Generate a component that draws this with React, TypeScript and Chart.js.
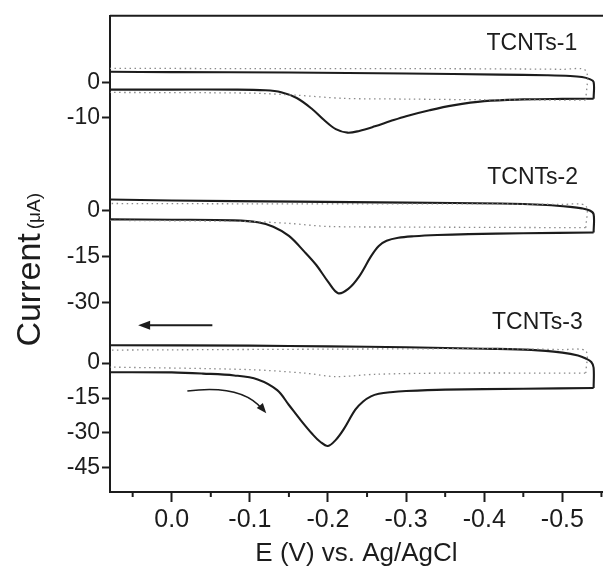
import React, { useEffect, useRef } from 'react';
import { Chart, registerables } from 'chart.js';

Chart.register(...registerables);

const FONT = '"Liberation Sans", Arial, Helvetica, sans-serif';
const INK = '#1c1c1c';
const DOT = '#8a8a8a';

// ---- x axis (potential, V vs Ag/AgCl) ----
const X_MIN = -0.552;
const X_MAX = 0.079;
const X_MAJOR = [0, -0.1, -0.2, -0.3, -0.4, -0.5];
const X_MINOR = [0.05, -0.05, -0.15, -0.25, -0.35, -0.45, -0.55];

// ---- y axes (current, µA), one per panel ----
const Y1_RANGE = [-23.7, 19.1];
const Y2_RANGE = [-32.6, 14.7];
const Y3_RANGE = [-55.4, 22.7];
const Y1_TICKS = [-10, 0];
const Y2_TICKS = [-30, -15, 0];
const Y3_TICKS = [-45, -30, -15, 0];
const PANEL_WEIGHTS = [150, 145, 182];

// ---- TCNTs-1 ----
const E1_FWD = [0.08, 0.0, -0.08, -0.12, -0.14, -0.16, -0.18, -0.195, -0.21, -0.225, -0.24, -0.26, -0.28, -0.3, -0.33, -0.36, -0.4, -0.45, -0.5, -0.54];
const I1_FWD = [-2.0, -2.0, -2.0, -2.2, -2.75, -4.4, -7.6, -10.7, -13.3, -14.3, -13.8, -12.5, -11.0, -9.6, -7.9, -6.5, -5.3, -4.8, -4.65, -4.6];
const E1_REV = [-0.54, -0.54, -0.535, -0.525, -0.51, -0.48, -0.42, -0.3, -0.15, 0.0, 0.08];
const I1_REV = [-4.6, 0.2, 1.0, 1.6, 1.9, 2.1, 2.3, 2.6, 2.9, 3.0, 3.1];
const EB1_FWD = [0.08, -0.1, -0.16, -0.22, -0.3, -0.4, -0.53];
const IB1_FWD = [-2.8, -3.0, -3.6, -4.5, -4.7, -4.9, -5.0];
const EB1_REV = [-0.53, -0.53, -0.5, -0.3, -0.1, 0.08];
const IB1_REV = [-5.0, 3.4, 3.8, 4.0, 4.0, 4.1];

// ---- TCNTs-2 ----
const E2_FWD = [0.08, 0.0, -0.08, -0.11, -0.13, -0.15, -0.17, -0.185, -0.2, -0.213, -0.226, -0.24, -0.255, -0.265, -0.275, -0.29, -0.31, -0.34, -0.38, -0.45, -0.54];
const I2_FWD = [-2.9, -3.0, -3.2, -3.8, -5.3, -8.3, -13.5, -17.8, -23.2, -27.0, -25.6, -21.5, -15.0, -11.6, -9.9, -8.9, -8.4, -8.0, -7.7, -7.4, -7.2];
const E2_REV = [-0.54, -0.54, -0.535, -0.525, -0.51, -0.48, -0.42, -0.3, -0.16, 0.0, 0.08];
const I2_REV = [-7.2, -1.2, 0.0, 0.7, 1.2, 1.8, 2.3, 2.6, 2.9, 3.3, 3.6];
const EB2_FWD = [0.08, -0.1, -0.15, -0.2, -0.3, -0.53];
const IB2_FWD = [-3.2, -3.6, -4.2, -5.2, -5.4, -5.6];
const EB2_REV = [-0.53, -0.53, -0.5, -0.3, -0.1, 0.08];
const IB2_REV = [-5.6, 1.5, 2.0, 2.2, 2.2, 2.3];

// ---- TCNTs-3 ----
const E3_FWD = [0.08, 0.0, -0.04, -0.08, -0.11, -0.135, -0.15, -0.165, -0.18, -0.19, -0.2, -0.21, -0.22, -0.235, -0.245, -0.255, -0.265, -0.28, -0.3, -0.35, -0.45, -0.54];
const I3_FWD = [-3.9, -4.0, -4.5, -5.3, -7.0, -11.6, -18.0, -24.5, -30.5, -33.8, -35.6, -33.0, -28.5, -20.0, -16.5, -14.3, -13.2, -12.5, -12.0, -11.4, -11.0, -10.7];
const E3_REV = [-0.54, -0.54, -0.537, -0.53, -0.52, -0.5, -0.46, -0.4, -0.3, -0.2, -0.1, 0.08];
const I3_REV = [-10.7, -2.0, 0.5, 2.0, 3.3, 4.5, 5.7, 6.2, 6.8, 7.2, 7.5, 7.7];
const EB3_FWD = [0.08, -0.1, -0.17, -0.21, -0.26, -0.35, -0.53];
const IB3_FWD = [-1.7, -2.8, -4.3, -5.8, -4.8, -4.3, -4.3];
const EB3_REV = [-0.53, -0.53, -0.5, -0.4, -0.2, 0.08];
const IB3_REV = [-4.3, 5.2, 5.8, 6.2, 6.0, 5.6];

// ---- annotations (data coordinates) ----
const PANEL_LABELS = ['TCNTs-1', 'TCNTs-2', 'TCNTs-3'];
const LABEL_E = [-0.519, -0.52, -0.526];
const LABEL_I = [11.1, 10.7, 17.6];
const ARROW_STRAIGHT = [[-0.052, 16.3], [0.043, 16.3]];
const ARROW_CURVED = [[-0.02, -12.0], [-0.0895, -9.0], [-0.121, -21.5]];

const isMajor = (v: number) => X_MAJOR.some((m) => Math.abs(m - v) < 1e-9);
const pts = (E: number[], I: number[]) => E.map((e, i) => ({ x: e, y: I[i] }));

function solid(E: number[], I: number[], axis: string) {
  return {
    data: pts(E, I), yAxisID: axis, borderColor: INK, borderWidth: 2.1,
    pointRadius: 0, tension: 0.35, fill: false,
  };
}
function dotted(E: number[], I: number[], axis: string) {
  return {
    data: pts(E, I), yAxisID: axis, borderColor: DOT, borderWidth: 1.3,
    borderDash: [1.5, 3.5], pointRadius: 0, tension: 0.3, fill: false,
  };
}
function yAxis(range: number[], weight: number, ticks: number[]) {
  return {
    type: 'linear', position: 'left', stack: 'cv', stackWeight: weight,
    min: range[0], max: range[1],
    afterBuildTicks: (s: any) => { s.ticks = [...ticks].sort((a, b) => a - b).map((v) => ({ value: v })); },
    afterFit: (s: any) => { s.width = 110; },
    grid: { drawOnChartArea: false, drawTicks: true, tickLength: 8, tickWidth: 2, tickColor: INK },
    border: { display: true, width: 2, color: INK },
    ticks: { padding: 2, color: INK, autoSkip: false, font: { family: FONT, size: 23 }, callback: (v: number) => String(v) },
  };
}

const decor = {
  id: 'decor',
  afterDraw(chart: any) {
    const { ctx, chartArea, scales } = chart;
    const x = scales.x;
    const y3 = scales.y3;
    ctx.save();
    ctx.strokeStyle = INK;
    ctx.fillStyle = INK;
    // top frame line
    ctx.lineWidth = 2;
    ctx.beginPath();
    ctx.moveTo(chartArea.left, chartArea.top);
    ctx.lineTo(chartArea.right, chartArea.top);
    ctx.stroke();
    // minor x ticks
    X_MINOR.forEach((v) => {
      const px = x.getPixelForValue(v);
      ctx.beginPath();
      ctx.moveTo(px, chartArea.bottom);
      ctx.lineTo(px, chartArea.bottom + 5);
      ctx.stroke();
    });
    // panel labels
    ctx.font = `23px ${FONT}`;
    ctx.textAlign = 'right';
    ctx.textBaseline = 'middle';
    PANEL_LABELS.forEach((t, i) => {
      const ys = scales['y' + (i + 1)];
      ctx.fillText(t, x.getPixelForValue(LABEL_E[i]), ys.getPixelForValue(LABEL_I[i]));
    });
    const head = (tx: number, ty: number, dx: number, dy: number, len: number, half: number) => {
      const L = Math.hypot(dx, dy);
      const ux = dx / L, uy = dy / L;
      ctx.beginPath();
      ctx.moveTo(tx, ty);
      ctx.lineTo(tx - ux * len - uy * half, ty - uy * len + ux * half);
      ctx.lineTo(tx - ux * len + uy * half, ty - uy * len - ux * half);
      ctx.closePath();
      ctx.fill();
    };
    // straight arrow
    const [s0, s1] = ARROW_STRAIGHT;
    const ax0 = x.getPixelForValue(s0[0]), ay0 = y3.getPixelForValue(s0[1]);
    const ax1 = x.getPixelForValue(s1[0]), ay1 = y3.getPixelForValue(s1[1]);
    ctx.lineWidth = 2;
    ctx.beginPath();
    ctx.moveTo(ax0, ay0);
    ctx.lineTo(ax1 + 8, ay1);
    ctx.stroke();
    head(ax1, ay1, ax1 - ax0, 0, 12, 4.5);
    // curved arrow
    const [c0, c1, c2] = ARROW_CURVED;
    const p0 = [x.getPixelForValue(c0[0]), y3.getPixelForValue(c0[1])];
    const p1 = [x.getPixelForValue(c1[0]), y3.getPixelForValue(c1[1])];
    const p2 = [x.getPixelForValue(c2[0]), y3.getPixelForValue(c2[1])];
    ctx.lineWidth = 1.6;
    ctx.beginPath();
    ctx.moveTo(p0[0], p0[1]);
    ctx.quadraticCurveTo(p1[0], p1[1], p2[0] - 4, p2[1] - 4);
    ctx.stroke();
    head(p2[0], p2[1], p2[0] - p1[0], p2[1] - p1[1], 10, 4);
    // y axis title
    ctx.translate(chartArea.left - 70, chartArea.top + 254);
    ctx.rotate(-Math.PI / 2);
    ctx.textBaseline = 'alphabetic';
    ctx.textAlign = 'left';
    const big = `34px ${FONT}`;
    const small = `19px ${FONT}`;
    ctx.font = big;
    const w1 = ctx.measureText('Current').width;
    ctx.font = small;
    const w2 = ctx.measureText('(μA)').width;
    const total = w1 + 4 + w2;
    ctx.font = big;
    ctx.fillText('Current', -total / 2, 0);
    ctx.font = small;
    ctx.fillText('(μA)', -total / 2 + w1 + 4, 0);
    ctx.restore();
  },
};

export default function App() {
  const ref = useRef<HTMLCanvasElement>(null);
  useEffect(() => {
    const canvas = ref.current;
    if (!canvas) return;
    const chart = new Chart(canvas, {
      type: 'line',
      data: {
        datasets: [
          dotted(EB1_FWD, IB1_FWD, 'y1'), dotted(EB1_REV, IB1_REV, 'y1'),
          dotted(EB2_FWD, IB2_FWD, 'y2'), dotted(EB2_REV, IB2_REV, 'y2'),
          dotted(EB3_FWD, IB3_FWD, 'y3'), dotted(EB3_REV, IB3_REV, 'y3'),
          solid(E1_FWD, I1_FWD, 'y1'), solid(E1_REV, I1_REV, 'y1'),
          solid(E2_FWD, I2_FWD, 'y2'), solid(E2_REV, I2_REV, 'y2'),
          solid(E3_FWD, I3_FWD, 'y3'), solid(E3_REV, I3_REV, 'y3'),
        ] as any,
      },
      options: {
        responsive: false,
        devicePixelRatio: 1,
        animation: false,
        parsing: false as any,
        layout: { padding: { top: 15, left: 0, right: 0, bottom: 0 } },
        plugins: { legend: { display: false }, tooltip: { enabled: false } },
        scales: {
          x: {
            type: 'linear', position: 'bottom', min: X_MIN, max: X_MAX, reverse: true,
            afterBuildTicks: (s: any) => {
              s.ticks = [...X_MAJOR, ...X_MINOR].sort((a, b) => a - b).map((v) => ({ value: v }));
            },
            afterFit: (s: any) => { s.height = 80; },
            grid: {
              drawOnChartArea: false, drawTicks: true, tickLength: 10, tickWidth: 2,
              tickColor: (c: any) => (c.tick && isMajor(c.tick.value) ? INK : 'rgba(0,0,0,0)'),
            },
            border: { display: true, width: 2, color: INK },
            ticks: {
              padding: 3, autoSkip: false, minRotation: 0, maxRotation: 0, color: INK,
              font: { family: FONT, size: 25 },
              callback: (v: number) => (isMajor(v) ? Number(v).toFixed(1) : ''),
            },
            title: {
              display: true, text: 'E (V) vs. Ag/AgCl', color: INK,
              font: { family: FONT, size: 26 }, padding: { top: 0, bottom: 3 },
            },
          },
          // stacked axes are laid out bottom-up in definition order
          y3: yAxis(Y3_RANGE, PANEL_WEIGHTS[2], Y3_TICKS),
          y2: yAxis(Y2_RANGE, PANEL_WEIGHTS[1], Y2_TICKS),
          y1: yAxis(Y1_RANGE, PANEL_WEIGHTS[0], Y1_TICKS),
        } as any,
      },
      plugins: [decor],
    });
    return () => chart.destroy();
  }, []);
  return (
    <div style={{ position: 'absolute', left: 0, top: 0, width: 603, height: 572, background: '#fff' }}>
      <canvas ref={ref} width={603} height={572} style={{ display: 'block' }} />
    </div>
  );
}
